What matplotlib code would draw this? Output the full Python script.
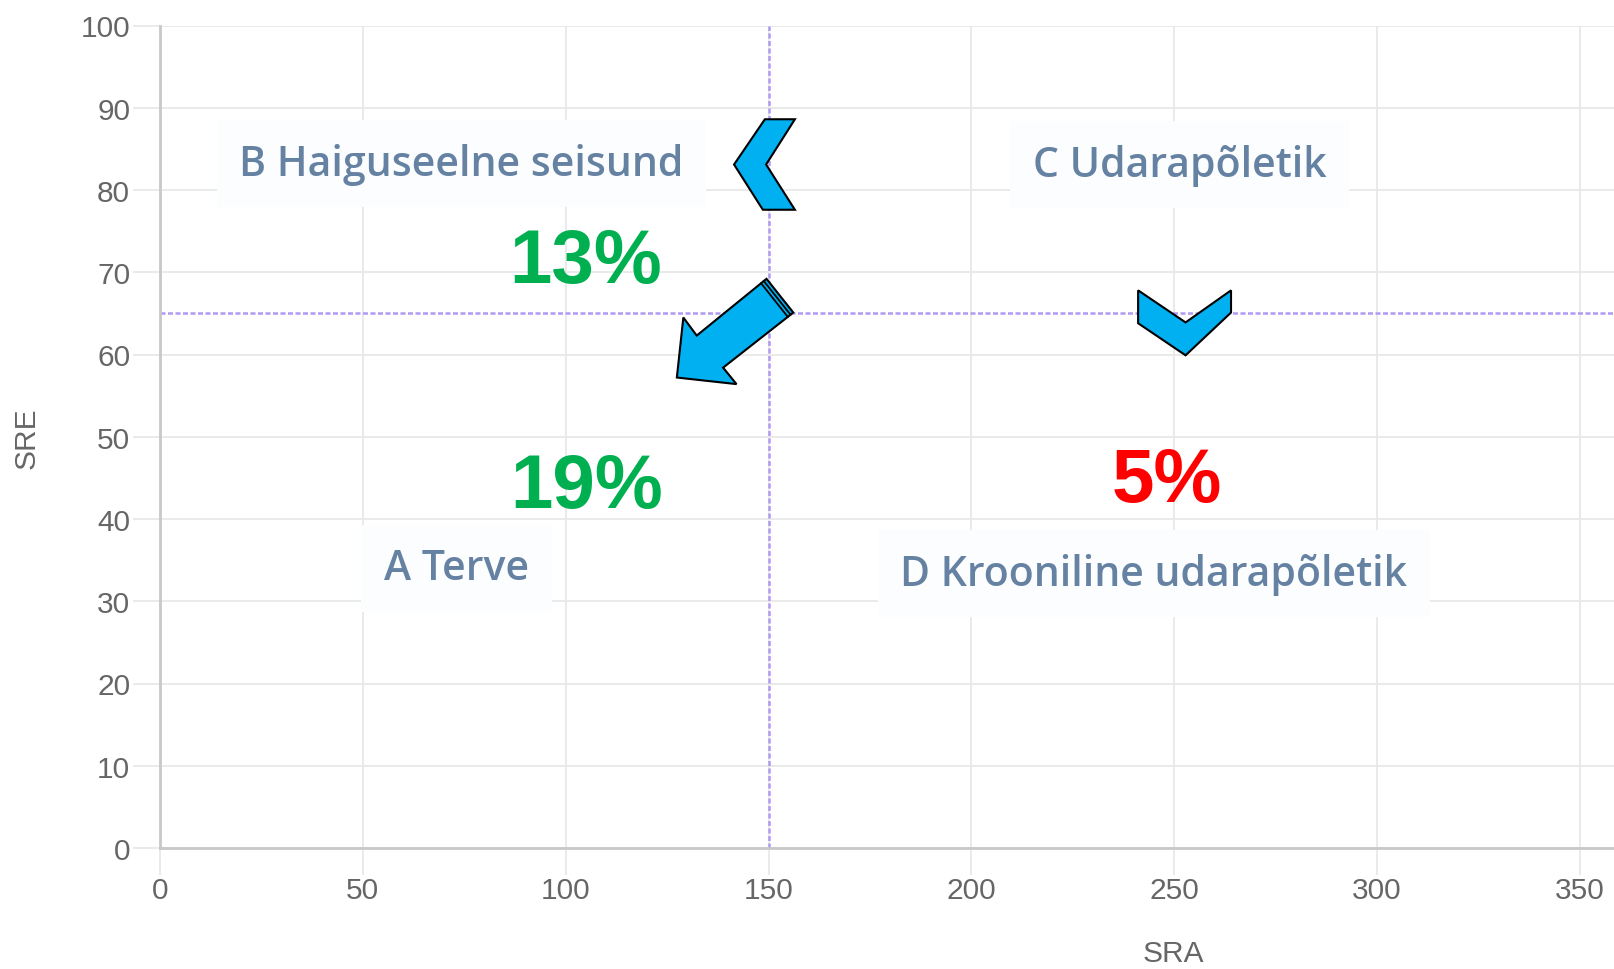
import numpy as np
import matplotlib.pyplot as plt
from matplotlib.patches import Polygon

# axis ticks
sra_ticks = [0, 50, 100, 150, 200, 250, 300, 350]
sre_ticks = [0, 10, 20, 30, 40, 50, 60, 70, 80, 90, 100]

# threshold lines
sra_limit = 150
sre_limit = 65

# quadrant labels (text baseline)
quad_names = ["A Terve", "B Haiguseelne seisund", "C Udarapõletik", "D Krooniline udarapõletik"]
quad_x = [73.1, 74.3, 251.3, 245.0]
quad_y = [32.7, 81.85, 81.75, 32.0]

# percentages (text baseline)
pct_values = [13, 19, 5]
pct_x = [104.8, 105.2, 248.2]
pct_y = [68.8, 41.4, 42.15]
pct_colors = ["#00b050", "#00b050", "#ff0000"]

# arrow shapes (in SRA / SRE units)
left_chevron = [(149.1, 88.6), (156.5, 88.6), (149.4, 83.1), (156.5, 77.6), (148.6, 77.6), (141.5, 83.1)]
down_chevron = [(241.1, 67.8), (252.8, 63.9), (264.0, 67.8), (264.0, 65.1), (252.8, 59.9), (241.1, 63.8)]
big_arrow = [(149.5, 69.2), (156.1, 65.1), (138.8, 58.4), (142.1, 56.4), (127.4, 57.2), (129.0, 64.5), (132.3, 62.3)]

plt.rcParams['font.family'] = ['Liberation Sans', 'DejaVu Sans']

fig = plt.figure(figsize=(16.14, 9.70), dpi=100)
ax = fig.add_axes([160/1614, 121/970, 1454/1614, 822.5/970])
ax.set_xlim(0, 358.4)
ax.set_ylim(0, 100)

ax.set_xticks(sra_ticks)
ax.set_yticks(sre_ticks)
ax.grid(True, color="#e8e8e8", linewidth=1.3, zorder=0)
ax.set_axisbelow(True)
ax.tick_params(axis='y', length=19.5, width=1.3, color="#e8e8e8", pad=2, labelsize=21.5, labelcolor="#666666")
ax.tick_params(axis='x', length=19.5, width=1.3, color="#e8e8e8", pad=1, labelsize=21.5, labelcolor="#666666")
for s in ["top", "right"]:
    ax.spines[s].set_visible(False)
for s in ["left", "bottom"]:
    ax.spines[s].set_color("#c8c8c8")
    ax.spines[s].set_linewidth(2)

ax.text(-0.092, 0.5, "SRE", transform=ax.transAxes, rotation=90, ha="center", va="center",
        fontsize=21.5, color="#666666")
ax.text(0.697, -0.128, "SRA", transform=ax.transAxes, ha="center", va="center",
        fontsize=21.5, color="#666666")

ax.axvline(sra_limit, color="#b09af2", linestyle=(0, (2, 1)), linewidth=1.8, zorder=1)
ax.axhline(sre_limit, color="#b09af2", linestyle=(0, (2, 1)), linewidth=1.8, zorder=1)

for name, x, y in zip(quad_names, quad_x, quad_y):
    ax.text(x, y, name, ha="center", va="baseline", fontsize=29.5, fontweight="semibold",
            color="#6682a3", family=["Open Sans", "DejaVu Sans"], zorder=3,
            bbox=dict(boxstyle="square,pad=0.55", fc="#fcfdfe", ec="none"))

for v, x, y, c in zip(pct_values, pct_x, pct_y, pct_colors):
    ax.text(x, y, f"{v}%", ha="center", va="baseline", fontsize=55, fontweight="bold",
            color=c, zorder=4)

for shape in [left_chevron, down_chevron, big_arrow]:
    ax.add_patch(Polygon(shape, closed=True, fc="#00b0f0", ec="black", lw=1.5,
                         joinstyle="miter", zorder=5))

# stripes near the tail of the big arrow (offset along the shaft, in pixels)
p0 = np.array(big_arrow[0])
p1 = np.array(big_arrow[1])
step = np.array([-0.783 / 4.057, -0.622 / 8.23])
for d in [3.5, 7.0]:
    off = step * d
    ax.plot([p0[0] + off[0], p1[0] + off[0]], [p0[1] + off[1], p1[1] + off[1]],
            color="black", lw=1.3, zorder=6)

fig.savefig("out.png", dpi=100)
